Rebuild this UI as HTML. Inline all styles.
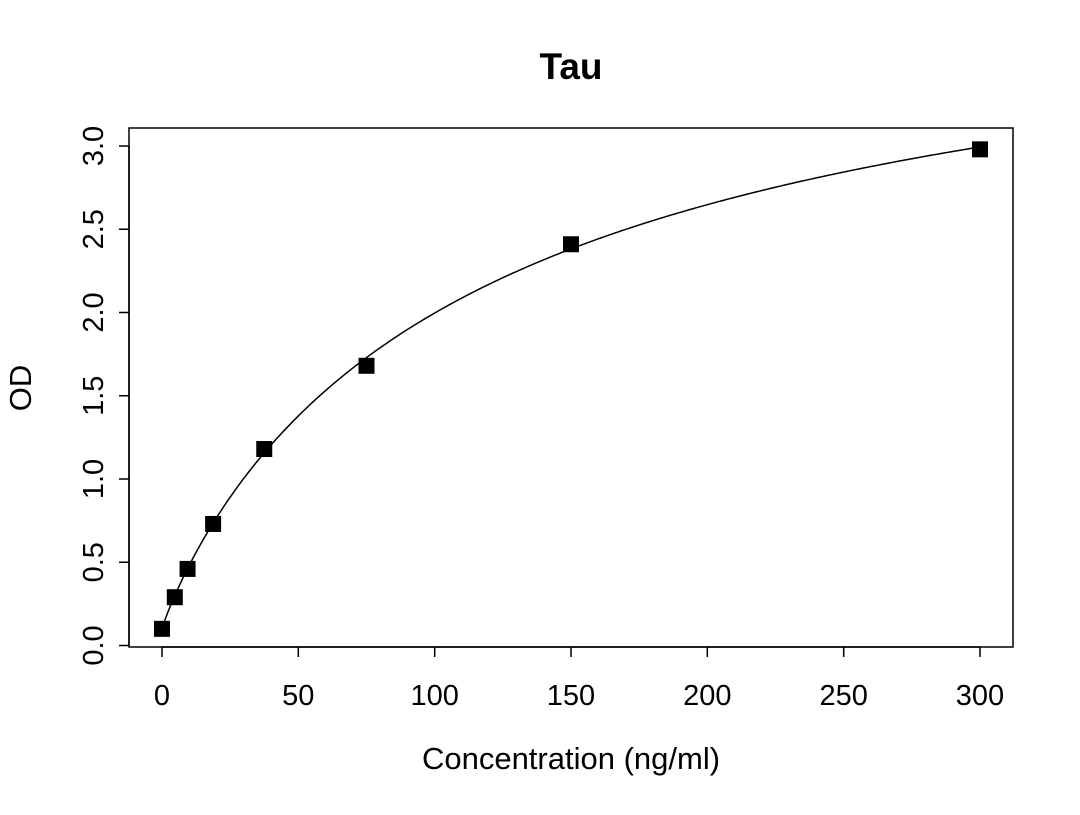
<!DOCTYPE html>
<html><head><meta charset="utf-8"><style>
html,body{margin:0;padding:0;background:#fff;}
svg text{font-family:"Liberation Sans",Arial,sans-serif;fill:#000;}
</style></head><body>
<svg id="s" width="1080" height="810" xmlns="http://www.w3.org/2000/svg">
<rect x="129" y="128" width="884" height="519" fill="none" stroke="#000" stroke-width="1.5"/>
<text x="571" y="79" font-size="37" font-weight="bold" text-anchor="middle">Tau</text>
<text x="571" y="769" font-size="31" text-anchor="middle">Concentration (ng/ml)</text>
<text transform="translate(31,388) rotate(-90)" font-size="31" text-anchor="middle">OD</text>
<g stroke="#000" stroke-width="1.5">
<line x1="162" y1="647" x2="980" y2="647"/>
<line x1="162" y1="647" x2="162" y2="657"/><line x1="298.3" y1="647" x2="298.3" y2="657"/>
<line x1="434.7" y1="647" x2="434.7" y2="657"/><line x1="571" y1="647" x2="571" y2="657"/>
<line x1="707.3" y1="647" x2="707.3" y2="657"/><line x1="843.7" y1="647" x2="843.7" y2="657"/>
<line x1="980" y1="647" x2="980" y2="657"/>
<line x1="129" y1="645.5" x2="129" y2="146"/>
<line x1="129" y1="645.5" x2="119" y2="645.5"/><line x1="129" y1="562.25" x2="119" y2="562.25"/>
<line x1="129" y1="479" x2="119" y2="479"/><line x1="129" y1="395.75" x2="119" y2="395.75"/>
<line x1="129" y1="312.5" x2="119" y2="312.5"/><line x1="129" y1="229.25" x2="119" y2="229.25"/>
<line x1="129" y1="146" x2="119" y2="146"/>
</g>
<g font-size="29" text-anchor="middle">
<text x="162" y="705">0</text><text x="298.3" y="705">50</text><text x="434.7" y="705">100</text>
<text x="571" y="705">150</text><text x="707.3" y="705">200</text><text x="843.7" y="705">250</text><text x="980" y="705">300</text>
<text transform="translate(103,645.5) rotate(-90)">0.0</text>
<text transform="translate(103,562.25) rotate(-90)">0.5</text>
<text transform="translate(103,479) rotate(-90)">1.0</text>
<text transform="translate(103,395.75) rotate(-90)">1.5</text>
<text transform="translate(103,312.5) rotate(-90)">2.0</text>
<text transform="translate(103,229.25) rotate(-90)">2.5</text>
<text transform="translate(103,146) rotate(-90)">3.0</text>
</g>
<path id="c" fill="none" stroke="#000" stroke-width="1.5"/>
<g id="pts" fill="#000"></g>
</svg>
<script>
var X=[0,4.6875,9.375,18.75,37.5,75,150,300],Y=[0.1,0.29,0.46,0.73,1.18,1.68,2.41,2.98];
function f(x,a,b,c,d){return d+(a-d)/(1+Math.pow(x/c,b));}
var best=null,be=1e9;
for(var b=0.6;b<=1.6;b+=0.02)for(var c=40;c<=400;c+=4)for(var d=2.8;d<=5;d+=0.04){
 var a=0.1,e=0;for(var i=0;i<8;i++){var r=f(X[i],a,b,c,d)-Y[i];e+=r*r;}
 if(e<be){be=e;best=[a,b,c,d];}}
var d="";
for(var x=0;x<=300;x+=1){var y=f(x,best[0],best[1],best[2],best[3]);
 d+=(x?" L":"M")+(162+x*818/300).toFixed(2)+","+(645.5-y*166.5).toFixed(2);}
document.getElementById("c").setAttribute("d",d);
var h="";
for(var i=0;i<8;i++){var px=162+X[i]*818/300,py=645.5-Y[i]*166.5;
 h+='<rect x="'+(px-8)+'" y="'+(py-8)+'" width="16" height="16"/>';}
document.getElementById("pts").innerHTML=h;
</script>
</body></html>
